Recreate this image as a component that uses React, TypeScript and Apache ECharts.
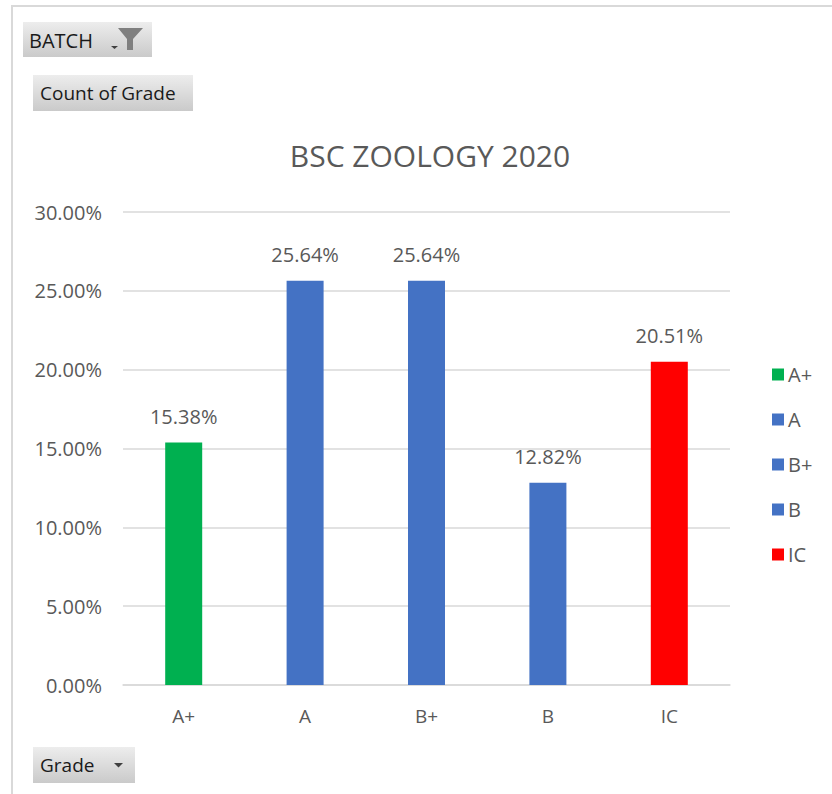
import React, { useEffect, useRef } from "react";
import * as echarts from "echarts";

const categories = ["A+", "A", "B+", "B", "IC"];
const values = [15.38, 25.64, 25.64, 12.82, 20.51];
const barColors = ["#00B050", "#4472C4", "#4472C4", "#4472C4", "#FF0000"];
const yTicks = { min: 0, max: 30, interval: 5 };
const titleText = "BSC ZOOLOGY 2020";

const FONT = "'Open Sans', 'Noto Sans', sans-serif";
const GREY = "#595959";

function buttonGradient() {
  return new echarts.graphic.LinearGradient(0, 0, 0, 1, [
    { offset: 0, color: "#EDEDED" },
    { offset: 1, color: "#CACACA" },
  ]);
}

export default function App() {
  const ref = useRef<HTMLDivElement>(null);
  useEffect(() => {
    if (!ref.current) return;
    const chart = echarts.init(ref.current, undefined, { renderer: "svg" });
    const series = categories.map((name, i) => ({
      name,
      type: "bar",
      stack: "grade",
      barWidth: 37,
      itemStyle: { color: barColors[i] },
      data: categories.map((_, j) => (j === i ? values[i] : null)),
      label: {
        show: true,
        position: "top",
        distance: 16,
        fontFamily: FONT,
        fontSize: 20,
        color: GREY,
        formatter: (p: any) => (p.value == null ? "" : Number(p.value).toFixed(2) + "%"),
      },
    }));
    chart.setOption({
      animation: false,
      backgroundColor: "#FFFFFF",
      textStyle: { fontFamily: FONT },
      title: {
        text: titleText,
        left: 430,
        top: 140,
        padding: 0,
        textAlign: "center",
        textStyle: { fontFamily: FONT, fontSize: 30, fontWeight: "normal", color: GREY },
      },
      grid: { left: 123, right: 102, top: 212, bottom: 109, containLabel: false },
      legend: {
        orient: "vertical",
        left: 772,
        top: 364,
        padding: 0,
        itemWidth: 12,
        itemHeight: 12,
        itemGap: 24,
        icon: "rect",
        textStyle: { fontFamily: FONT, fontSize: 20, color: GREY, lineHeight: 21, padding: [0, 0, 0, -1] },
        data: categories,
      },
      xAxis: {
        type: "category",
        data: categories,
        axisLine: { show: true, lineStyle: { color: "#D9D9D9", width: 1.5 } },
        axisTick: { show: false },
        axisLabel: { fontFamily: FONT, fontSize: 19, color: GREY, margin: 21 },
      },
      yAxis: {
        type: "value",
        min: yTicks.min,
        max: yTicks.max,
        interval: yTicks.interval,
        axisLine: { show: false },
        axisTick: { show: false },
        splitLine: { lineStyle: { color: "#D9D9D9", width: 1.5 } },
        axisLabel: {
          fontFamily: FONT,
          fontSize: 20,
          color: GREY,
          margin: 21,
          formatter: (v: number) => v.toFixed(2) + "%",
        },
      },
      graphic: [
        {
          type: "rect",
          shape: { x: 12, y: 6, width: 1000, height: 1000 },
          style: { fill: "none", stroke: "#D9D9D9", lineWidth: 2 },
          silent: true,
        },
        {
          type: "rect",
          shape: { x: 23, y: 22, width: 129, height: 35 },
          style: { fill: buttonGradient() },
        },
        {
          type: "text",
          x: 29,
          y: 40,
          style: { text: "BATCH", fontFamily: FONT, fontSize: 20, fill: "#1A1A1A", verticalAlign: "middle" },
        },
        {
          type: "polygon",
          shape: { points: [[111, 46], [118, 46], [114.5, 49]] },
          style: { fill: "#404040" },
        },
        {
          type: "polygon",
          shape: {
            points: [[118, 28], [143, 28], [133, 39], [133, 50], [127, 50], [127, 39]],
          },
          style: { fill: "#7F7F7F" },
        },
        {
          type: "rect",
          shape: { x: 33, y: 75, width: 160, height: 36 },
          style: { fill: buttonGradient() },
        },
        {
          type: "text",
          x: 40,
          y: 93,
          style: { text: "Count of Grade", fontFamily: FONT, fontSize: 19, fill: "#1A1A1A", verticalAlign: "middle" },
        },
        {
          type: "rect",
          shape: { x: 33, y: 747, width: 102, height: 36 },
          style: { fill: buttonGradient() },
        },
        {
          type: "text",
          x: 40,
          y: 765,
          style: { text: "Grade", fontFamily: FONT, fontSize: 19, fill: "#1A1A1A", verticalAlign: "middle" },
        },
        {
          type: "polygon",
          shape: { points: [[114, 763], [123, 763], [118.5, 767.5]] },
          style: { fill: "#404040" },
        },
      ],
      series,
    });
    return () => chart.dispose();
  }, []);
  return (
    <div
      ref={ref}
      style={{ position: "absolute", left: 0, top: 0, width: 832, height: 794 }}
    />
  );
}
